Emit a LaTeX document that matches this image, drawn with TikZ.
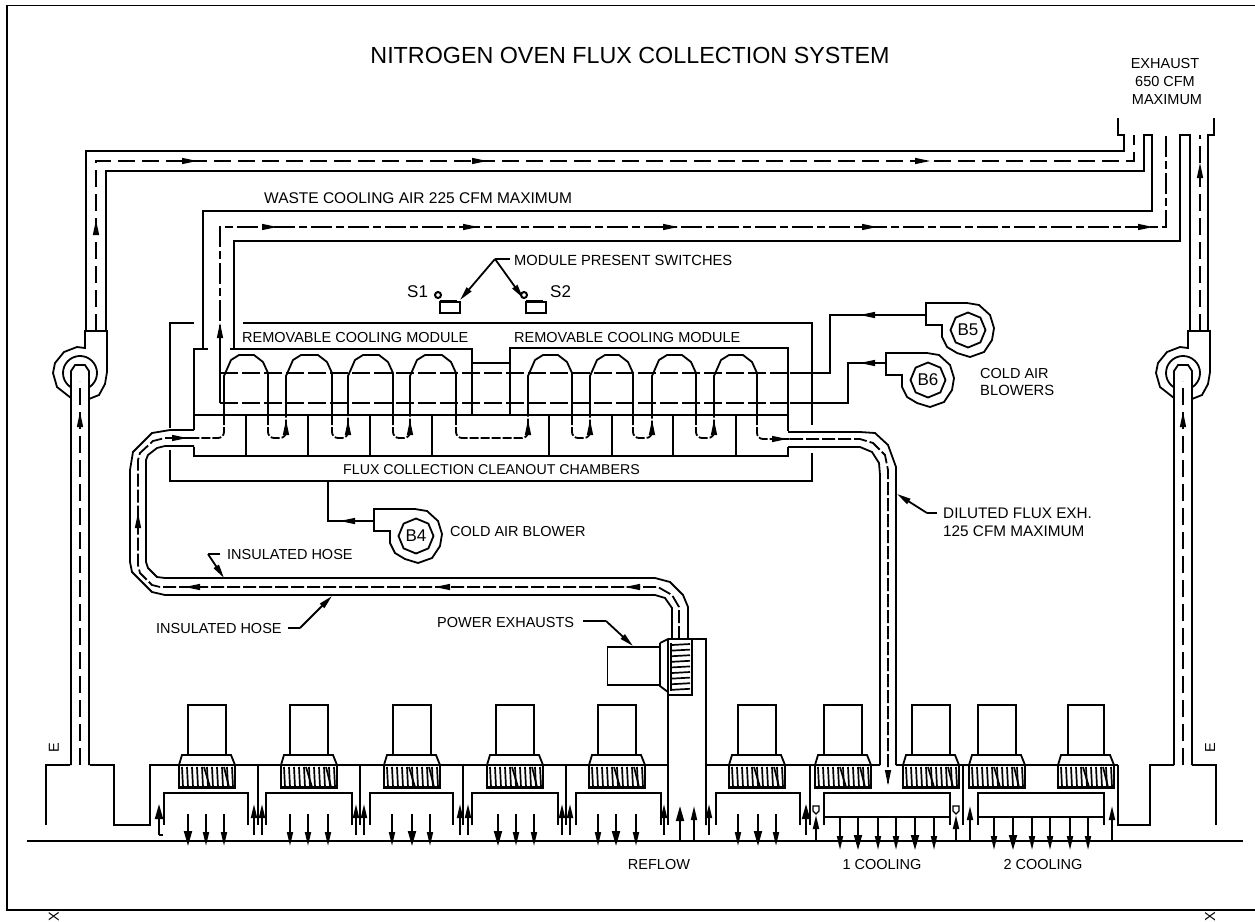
\documentclass[tikz,border=0pt]{standalone}
\usepackage{fontspec}
\setmainfont{Liberation Sans}
\usetikzlibrary{arrows.meta,shapes.geometric}
\newcommand\fs[1]{\fontsize{#1}{#1}\selectfont}
\newcommand\midarrow[3]{\fill[shift={(#1,#2)},rotate=#3] (0,0)--(-15,3.2)--(-15,-3.2)--cycle;}
\newcommand\fan[2]{%
  \draw[ln] ({#1-#2},755)--({#1-#2},705)--({#1+#2},705)--({#1+#2},755);
  \draw[ln] ({#1-28},765)--({#1-25},755)--({#1+24},755)--({#1+28},765);
  \draw[ln] ({#1-28},765)--({#1-28},788)--({#1+28},788)--({#1+28},765);
  \draw[line width=2.6pt] ({#1-28},787.5)--({#1+28},787.5);
  \foreach \i in {0,...,10}{\draw[line width=1.7pt] ({#1-25+\i*5},767)--({#1-24+\i*5},787);}
  \draw[line width=1.7pt] ({#1-3},767)--({#1+3},787) ({#1+17},767)--({#1+22},787);
}
\newcommand\plen[2]{\draw[ln] (#1,825)--(#1,793)--(#2,793)--(#2,825);}
\newcommand\blower[4]{%
  \draw[ln,shift={(#1,#2)}] (-1,-27)--(-42,-27)--(-42,-5)--(-26,-5)--(-26,7)--(-21,17)--(-11,23)--(2,27)--(16,22)--(24,10)--(26,-2)--(22,-15)--(11,-25)--cycle;
  \node[ln,draw,regular polygon,regular polygon sides=8,shape border rotate=22.5,minimum size=35pt,inner sep=0pt,font=\fs{17}] (#3) at (#1,#2) {#4};
}
\newcommand\pump[1]{%
  \begin{scope}[shift={(#1,0)}]
  \draw[ln] (1192,399)--(1202,395)--(1208,384)--(1210,372)--(1210,331)--(1188,331)--(1188,348)--(1180,347)--(1167,352)--(1158,363)--(1156,373)--(1160,387)--(1174,398);
  \draw[ln] (1174,387.4) arc[start angle=122,end angle=418,radius=17];
  \draw[ln] (1174,765)--(1174,378)--(1174,371)--(1178,365)--(1188,365)--(1192,371)--(1192,765);
  \end{scope}
}
\newcommand\sensor[1]{\draw[line width=1.3pt] (#1-3,806)--(#1+3,806)--(#1+3,811)--(#1,814)--(#1-3,811)--cycle;}
\newcommand\tube[2]{\draw[ln,line join=round] (#1,416)--(#1,376)--(#1+7,360)--(#1+15,355)--(#2-14,355)--(#2-5,362)--(#2,373)--(#2,416);}
\newcommand\ubend[2]{\draw[ln,hd,rounded corners=6pt] (#1,416)--(#1,438)--(#2,438)--(#2,416);}
\begin{document}
\begin{tikzpicture}[x=1pt,y=-1pt,
  ln/.style={line width=1.8pt,line join=miter},
  dsh/.style={line width=1.8pt,dash pattern=on 17pt off 7pt},
  dsd/.style={line width=1.8pt,dash pattern=on 21pt off 4pt on 8pt off 4pt},
  dxs/.style={line width=1.8pt,dash pattern=on 18pt off 4pt},
  hd/.style={dash pattern=on 9pt off 2pt},
  hs/.style={line width=1.8pt,dash pattern=on 13pt off 3pt},
  tipa/.style={-{Triangle[length=14pt,width=6pt]}},
  tipb/.style={-{Triangle[length=15pt,width=8pt]}},
  lab/.style={inner sep=0pt,anchor=west,font=\fs{14.5}},
  labc/.style={inner sep=0pt,font=\fs{14.5}}]
\clip (0,0) rectangle (1255,921);
\fill[white] (0,0) rectangle (1255,921);
% border
\draw[ln] (1260,5.5)--(7,5.5)--(7,910)--(1260,910);
% title and labels
\node[labc,font=\fs{23.3}] (title) at (630,55) {NITROGEN OVEN FLUX COLLECTION SYSTEM};
\node[labc] (exa) at (1165,64) {EXHAUST};
\node[labc] (exb) at (1165,82) {650 CFM};
\node[labc] (exc) at (1167,100) {MAXIMUM};
\node[lab,font=\fs{15.5}] (waste) at (264,198) {WASTE COOLING AIR 225 CFM MAXIMUM};
\node[lab,font=\fs{14.7}] (mps) at (514,260) {MODULE PRESENT SWITCHES};
\node[lab,font=\fs{17}] (s1) at (407,292) {S1};
\node[lab,font=\fs{17}] (s2) at (550,292) {S2};
\node[lab] (rma) at (242,338) {REMOVABLE COOLING MODULE};
\node[lab] (rmb) at (514,338) {REMOVABLE COOLING MODULE};
\node[lab,font=\fs{14.2}] (fc) at (343,470) {FLUX COLLECTION CLEANOUT CHAMBERS};
\node[lab] (cab) at (450,531) {COLD AIR BLOWER};
\node[lab] (caba) at (980,374) {COLD AIR};
\node[lab,font=\fs{14.8}] (cabb) at (980,390) {BLOWERS};
\node[lab,font=\fs{15.3}] (dil) at (943,513) {DILUTED FLUX EXH.};
\node[lab,font=\fs{15.3}] (cfm) at (943,531) {125 CFM MAXIMUM};
\node[lab] (ih1) at (227,554) {INSULATED HOSE};
\node[lab] (ih2) at (156,628) {INSULATED HOSE};
\node[lab] (pe) at (437,622) {POWER EXHAUSTS};
\node[labc] (rf) at (659,864) {REFLOW};
\node[labc] (c1) at (882,864) {1 COOLING};
\node[labc] (c2) at (1043,864) {2 COOLING};
\node[labc,rotate=90] (e1) at (54,748) {E};
\node[labc,rotate=90] (e2) at (1210,748) {E};
\node[labc,rotate=90] (x1) at (54,917) {X};
\node[labc,rotate=90] (x2) at (1210,917) {X};
% top exhaust duct
\draw[ln] (86,331)--(86,151)--(1124,151)--(1124,135)--(1118,135)--(1118,118);
\draw[ln] (106,331)--(106,171)--(1144,171)--(1144,135)--(1152,135)--(1152,211)--(203,211)--(203,349);
\draw[dsh] (96,331)--(96,161)--(1134,161)--(1134,135);
\midarrow{96}{220}{90}\midarrow{197}{161}{0}\midarrow{487}{161}{0}\midarrow{930}{161}{0}
% waste cooling duct
\draw[ln] (234,349)--(234,241)--(1180,241)--(1180,135)--(1190,135)--(1190,331);
\draw[ln] (1208,331)--(1208,135)--(1214,135)--(1214,118);
\draw[dsd] (220,358)--(220,227)--(1166,227)--(1166,135);
\draw[dsh] (1200,331)--(1200,135);
\midarrow{220}{323}{90}\midarrow{277}{227}{0}\midarrow{478}{227}{0}\midarrow{678}{227}{0}\midarrow{877}{227}{0}\midarrow{1153}{227}{0}\midarrow{1200}{163}{90}
% blowers on both sides
\pump{0}
\pump{-1103}
\draw[dsh] (1183,765)--(1183,381);
\draw[dsh] (80,765)--(80,381);
\midarrow{1183}{412}{90}\midarrow{80}{412}{90}
% module present switches
\draw[ln] (510,259)--(495,259);
\draw[ln,tipa] (495,259)--(460,300);
\draw[ln,tipa] (495,259)--(523,298);
\draw[ln] (440,302) rectangle (460,313);
\draw[line width=2.6pt] (440,301)--(457,301);
\draw[ln] (526,302) rectangle (546,313);
\draw[line width=2.6pt] (526,301)--(543,301);
\draw[line width=2pt] (438,295) circle[radius=3];
\draw[line width=2pt] (524,295) circle[radius=3];
% chamber housings
\draw[ln] (194,323)--(170,323)--(170,428);
\draw[ln] (243,323)--(812,323)--(812,425);
\draw[ln] (170,450)--(170,481)--(812,481)--(812,453);
\draw[ln] (194,430)--(194,349)--(208,349);
\draw[ln] (230,349)--(472,349)--(472,415);
\draw[ln] (510,415)--(510,348)--(788,348)--(788,431);
\draw[ln] (472,363)--(510,363);
\draw[ln] (194,415)--(788,415);
\draw[ln] (194,447)--(194,456)--(788,456)--(788,447);
\foreach \x in {246,308,370,432,549,612,673,736}{\draw[ln] (\x,415)--(\x,456);}
% coils
\tube{224}{268}\tube{286}{332}\tube{348}{393}\tube{410}{456}
\tube{528}{572}\tube{590}{633}\tube{652}{696}\tube{714}{757}
\ubend{268}{286}\ubend{332}{348}\ubend{393}{410}\ubend{456}{528}
\ubend{572}{590}\ubend{633}{652}\ubend{696}{714}
\draw[ln,hd,rounded corners=6pt] (224,416)--(224,438)--(194,438);
\draw[ln,hd,rounded corners=6pt] (757,416)--(757,439)--(790,439);
\foreach \x in {286,348,410,528,590,652,714}{\midarrow{\x}{420}{90}}
% cold-air distribution lines
\draw[dxs] (220,373)--(790,373);
\draw[ln] (790,373)--(830,373)--(830,315)--(926,315);
\draw[dxs] (220,403)--(790,403);
\draw[ln] (220,403)--(220,358);
\draw[ln] (790,403)--(848,403)--(848,363)--(886,363);
\midarrow{860}{315}{180}\midarrow{860}{363}{180}
% cold air blowers
\blower{968}{330}{b5}{B5}
\blower{928}{380}{b6}{B6}
\blower{416}{536}{b4}{B4}
\draw[ln] (328,481)--(328,521)--(374,521);
\midarrow{340}{521}{180}
% left hose
\draw[ln] (194,430)--(170,430)--(152,433)--(133,452)--(130,470)--(130,562)--(132,572)--(152,592)--(165,595)--(655,595)--(665,598)--(672,608)--(672,638);
\draw[ln] (194,446)--(165,446)--(157,448)--(148,455)--(146,460)--(146,562)--(148,568)--(157,577)--(165,578)--(655,578)--(670,582)--(683,595)--(688,607)--(688,638);
\draw[hs] (194,438)--(165,438)--(153,441)--(140,453)--(138,460)--(138,565)--(140,573)--(152,585)--(160,587)--(658,587)--(672,595)--(679,607)--(679,638);
\midarrow{138}{513}{90}\midarrow{185}{587}{180}\midarrow{435}{587}{180}\midarrow{625}{587}{180}\midarrow{187}{438}{0}
% right hose
\draw[ln] (788,432)--(860,432)--(875,433)--(888,445)--(896,467)--(896,765);
\draw[ln] (788,447)--(860,447)--(872,452)--(879,463)--(880,475)--(880,765);
\draw[hs] (790,439)--(860,439)--(873,443)--(885,455)--(888,470)--(888,783);
\midarrow{787}{439}{0}\midarrow{888}{785}{-90}
% leaders
\draw[ln] (220,554)--(208,554);
\draw[ln,tipa] (208,554)--(224,578);
\draw[ln] (288,628)--(300,628);
\draw[ln,tipa] (300,628)--(332,596);
\draw[ln] (583,621)--(606,621);
\draw[ln,tipa] (606,621)--(633,646);
\draw[ln] (937,513)--(927,513);
\draw[ln,tipa] (927,513)--(897,494);
% power exhaust
\draw[ln] (607.5,647) rectangle (660,685);
\draw[ln] (660,643)--(668,639)--(706,639)--(706,825);
\draw[ln] (660,643)--(660,686)--(668,692);
\draw[ln] (668,639)--(668,825);
\draw[ln] (668,695)--(692,695)--(692,639);
\draw[line width=2.2pt] (671,643)--(671,691);
\foreach \i in {0,...,8}{\draw[line width=1.7pt] (672,{644+\i*5.6+1})--(690,{644+\i*5.6});}
% oven body
\draw[ln] (46,825)--(46,765)--(70,765);
\draw[ln] (90,765)--(114,765)--(114,825)--(150,825)--(150,765)--(668,765);
\draw[ln] (706,765)--(880,765);
\draw[ln] (896,765)--(1118,765);
\draw[ln] (1174,765)--(1150,765)--(1150,825)--(1118,825)--(1118,765);
\draw[ln] (1192,765)--(1216,765)--(1216,825);
\foreach \x in {258,360,463,566,810,963}{\draw[ln] (\x,765)--(\x,825);}
% fans
\fan{207}{19}\fan{309}{19}\fan{412}{19}\fan{515}{19}\fan{617}{19}\fan{757}{19}\fan{843}{19}\fan{931}{19}\fan{997}{19}\fan{1086}{18}
% plenums
\plen{164}{248}\plen{266}{352}\plen{370}{453}\plen{472}{558}\plen{576}{661}\plen{716}{800}
\plen{824}{950}\plen{978}{1104}
\draw[ln] (824,817)--(950,817);
\draw[ln] (978,817)--(1104,817);
% floor line
\draw[ln] (27,841)--(1243,841);
% floor arrows down
\foreach \x in {206,224,290,308,328,392,430,516,534,598,636,738,776}{\draw[ln,tipa] (\x,814)--(\x,846);}
\foreach \x in {188,412,498,616,758}{\draw[ln,tipb] (\x,814)--(\x,846);}
\foreach \x in {840,878,896,934,994,1032,1050,1070,1088}{\draw[ln,tipa] (\x,817)--(\x,850);}
\foreach \x in {858,915,1013}{\draw[ln,tipb] (\x,817)--(\x,850);}
% floor arrows up
\foreach \x in {254,262,356,364,460,468,562,570,664,709}{\draw[ln,tipa] (\x,835)--(\x,804);}
\draw[ln,tipb] (806,835)--(806,804);
\draw[ln] (163,835)--(159,835);
\draw[ln,tipb] (159,835)--(159,804);
\draw[ln,tipb] (680,841)--(680,806);
\draw[ln,tipa] (694,841)--(694,806);
\draw[ln,tipa] (816,841)--(816,815);
\draw[ln,tipa] (956,841)--(956,815);
\draw[ln,tipa] (970,841)--(970,806);
\draw[ln,tipa] (1112,841)--(1112,806);
\sensor{816}\sensor{956}
\end{tikzpicture}
\end{document}
